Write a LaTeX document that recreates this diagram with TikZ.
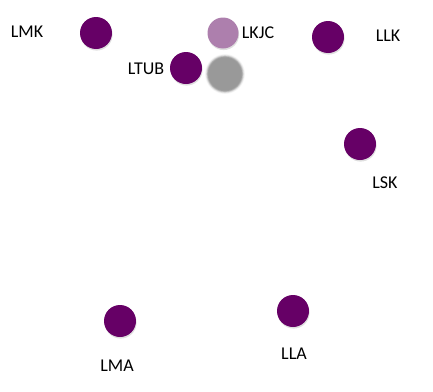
\documentclass[tikz,border=0pt]{standalone}
\usepackage{fontspec}
\setmainfont{Carlito}
\usetikzlibrary{shadows}
\definecolor{dpurple}{HTML}{660066}
\definecolor{lpurple}{HTML}{AD7FAD}
\definecolor{blurgray}{HTML}{999999}
\tikzset{
  dot/.style={circle, fill=dpurple, minimum size=32pt, inner sep=0pt,
    drop shadow={shadow xshift=0.6pt, shadow yshift=-1.6pt, opacity=0.25}},
  lbl/.style={font=\fontsize{18}{20}\selectfont, text=black, inner sep=0pt}
}
\begin{document}
\begin{tikzpicture}[x=1pt,y=1pt]
\useasboundingbox (0,0) rectangle (433,-391);
% blurred gray circle
\foreach \r/\o in {20/0.08,19.3/0.15,18.6/0.3,17.9/0.5,17.2/0.75,16.5/1} {
  \fill[blurgray, opacity=\o] (225,-74) circle (\r);
}
\node[circle, minimum size=34pt, inner sep=0pt] (gray) at (225,-74) {};
\node[dot] (lmk) at (96,-33) {};
\node[dot, fill=lpurple, minimum size=31pt] (lkjc) at (223,-33) {};
\node[dot] (llk) at (328,-37) {};
\node[dot] (ltub) at (186,-68) {};
\node[dot] (lsk) at (360,-144) {};
\node[dot] (lma) at (120,-321) {};
\node[dot] (lla) at (293,-311) {};
\node[lbl] (tlmk) at (27,-32) {LMK};
\node[lbl] (tlkjc) at (258,-33) {LKJC};
\node[lbl] (tllk) at (388,-36) {LLK};
\node[lbl] (tltub) at (146,-69) {LTUB};
\node[lbl] (tlsk) at (385,-183) {LSK};
\node[lbl] (tlma) at (117,-366) {LMA};
\node[lbl] (tlla) at (294,-354) {LLA};
\end{tikzpicture}
\end{document}
